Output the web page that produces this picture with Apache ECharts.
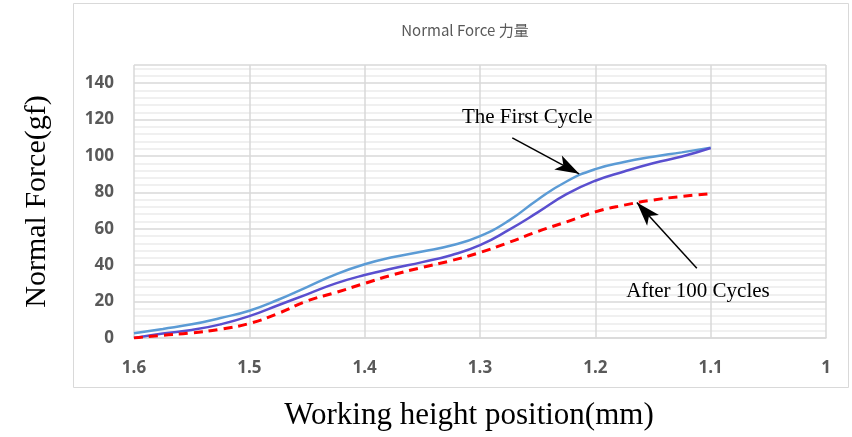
<!DOCTYPE html>
<html>
<head>
<meta charset="utf-8">
<script src="https://cdn.jsdelivr.net/npm/echarts@6/dist/echarts.min.js"></script>
<style>
html,body{margin:0;padding:0;background:#fff;}
#main{width:852px;height:437px;}
</style>
</head>
<body>
<div id="main"></div>
<script>
// working height position (mm), shared by all three curves
var heights = [1.6, 1.575, 1.55, 1.525, 1.5, 1.475, 1.45, 1.425, 1.4, 1.375, 1.35, 1.325, 1.3, 1.275, 1.25, 1.225, 1.2, 1.175, 1.15, 1.125, 1.1];
var lightBlue = [2.6, 5, 7.5, 11, 15, 21, 28, 35, 40.5, 44.5, 47.5, 50.8, 56, 64.5, 76, 86, 92.8, 96.7, 99.6, 102, 104.6];
var firstCycle = [0, 2.5, 4.4, 7.5, 12, 18, 24, 30, 34.6, 38.3, 41.7, 45.5, 51, 59.4, 69, 79, 86.4, 91.5, 96, 99.7, 104.4];
var after100 = [0, 1.5, 2.8, 4.8, 8, 13.5, 20.3, 25, 30, 34.8, 38.8, 42.5, 47, 52.5, 58.5, 63.8, 69.3, 73, 75.8, 77.8, 79.3];

var chartTitle = 'Normal Force 力量';
var xTitle = 'Working height position(mm)';
var yTitle = 'Normal Force(gf)';

function pairs(xs, ys){
	var out = [];
	for(var i=0;i<xs.length;i++){ out.push([xs[i], ys[i]]); }
	return out;
}

function initEcharts(elem){
	var myChart = echarts.init(document.getElementById(elem));
	var labelStyle = { color:'#595959', fontSize:17, fontWeight:'bold', fontFamily:'Open Sans' };
	var option = {
		animation:false,
		backgroundColor:'#fff',
		title : {
			text: chartTitle,
			left: 460,
			top: 18,
			textAlign:'center',
			textStyle:{ color:'#595959', fontSize:15, fontWeight:'normal', fontFamily:'Noto Sans CJK SC' }
		},
		graphic:[
			{ type:'rect', shape:{ x:73.5, y:3.5, width:775, height:384 }, style:{ fill:'none', stroke:'#d9d9d9', lineWidth:1 }, z:-1 }
		],
		grid : { left:134, right:26, top:65, bottom:99 },
		xAxis : {
			type:'value',
			inverse:true,
			min:1, max:1.6, interval:0.1,
			name:xTitle,
			nameLocation:'middle',
			nameGap:62,
			nameTextStyle:{ color:'#000', fontSize:31, fontFamily:'Liberation Serif', padding:[0,22,0,0] },
			axisLine:{ lineStyle:{ color:'#d9d9d9', width:1.5 } },
			axisTick:{ show:false },
			axisLabel:{ margin:22, color:labelStyle.color, fontSize:labelStyle.fontSize, fontWeight:'bold', fontFamily:labelStyle.fontFamily },
			splitLine:{ show:true, lineStyle:{ color:'#d9d9d9', width:1.5 } }
		},
		yAxis : {
			type:'value',
			min:0, max:150, interval:20,
			name:yTitle,
			nameLocation:'middle',
			nameRotate:90,
			nameGap:82,
			nameTextStyle:{ color:'#000', fontSize:30, fontFamily:'Liberation Serif' },
			axisLine:{ show:false },
			axisTick:{ show:false },
			axisLabel:{ margin:20, showMaxLabel:false, color:labelStyle.color, fontSize:labelStyle.fontSize, fontWeight:'bold', fontFamily:labelStyle.fontFamily },
			splitLine:{ show:true, lineStyle:{ color:'#d9d9d9', width:1.5 } },
			minorTick:{ show:false, splitNumber:5 },
			minorSplitLine:{ show:true, lineStyle:{ color:'#ececec', width:1.5 } }
		},
		series : [
			{
				name:'light',
				type:'line',
				smooth:true,
				symbol:'none',
				data:pairs(heights, lightBlue),
				lineStyle:{ color:'#5b9bd5', width:2.5 }
			},
			{
				name:'The First Cycle',
				type:'line',
				smooth:true,
				symbol:'none',
				data:pairs(heights, firstCycle),
				lineStyle:{ color:'#5a4fcf', width:2.5 },
				markPoint:{
					symbol:'circle', symbolSize:0,
					label:{ show:true, formatter:'{b}', color:'#000', fontSize:21, fontFamily:'Liberation Serif', position:'inside' },
					data:[ { name:'The First Cycle', coord:[1.259, 121] } ]
				},
				markLine:{
					silent:true,
					symbol:['none','arrow'], symbolSize:[12,24],
					label:{ show:false },
					lineStyle:{ color:'#000', width:1.5, type:'solid' },
					data:[ [ { coord:[1.272, 110] }, { coord:[1.214, 90.2] } ] ]
				}
			},
			{
				name:'After 100 Cycles',
				type:'line',
				smooth:true,
				symbol:'none',
				data:pairs(heights, after100),
				lineStyle:{ color:'#ff0000', width:3, type:[9,6] },
				markPoint:{
					symbol:'circle', symbolSize:0,
					label:{ show:true, formatter:'{b}', color:'#000', fontSize:21, fontFamily:'Liberation Serif', position:'inside' },
					data:[ { name:'After 100 Cycles', coord:[1.111, 25.7] } ]
				},
				markLine:{
					silent:true,
					symbol:['none','arrow'], symbolSize:[12,24],
					label:{ show:false },
					lineStyle:{ color:'#000', width:1.5, type:'solid' },
					data:[ [ { coord:[1.112, 38.3] }, { coord:[1.164, 74.4] } ] ]
				}
			}
		]
	};
	myChart.setOption(option);
}

initEcharts('main');
</script>
</body>
</html>
